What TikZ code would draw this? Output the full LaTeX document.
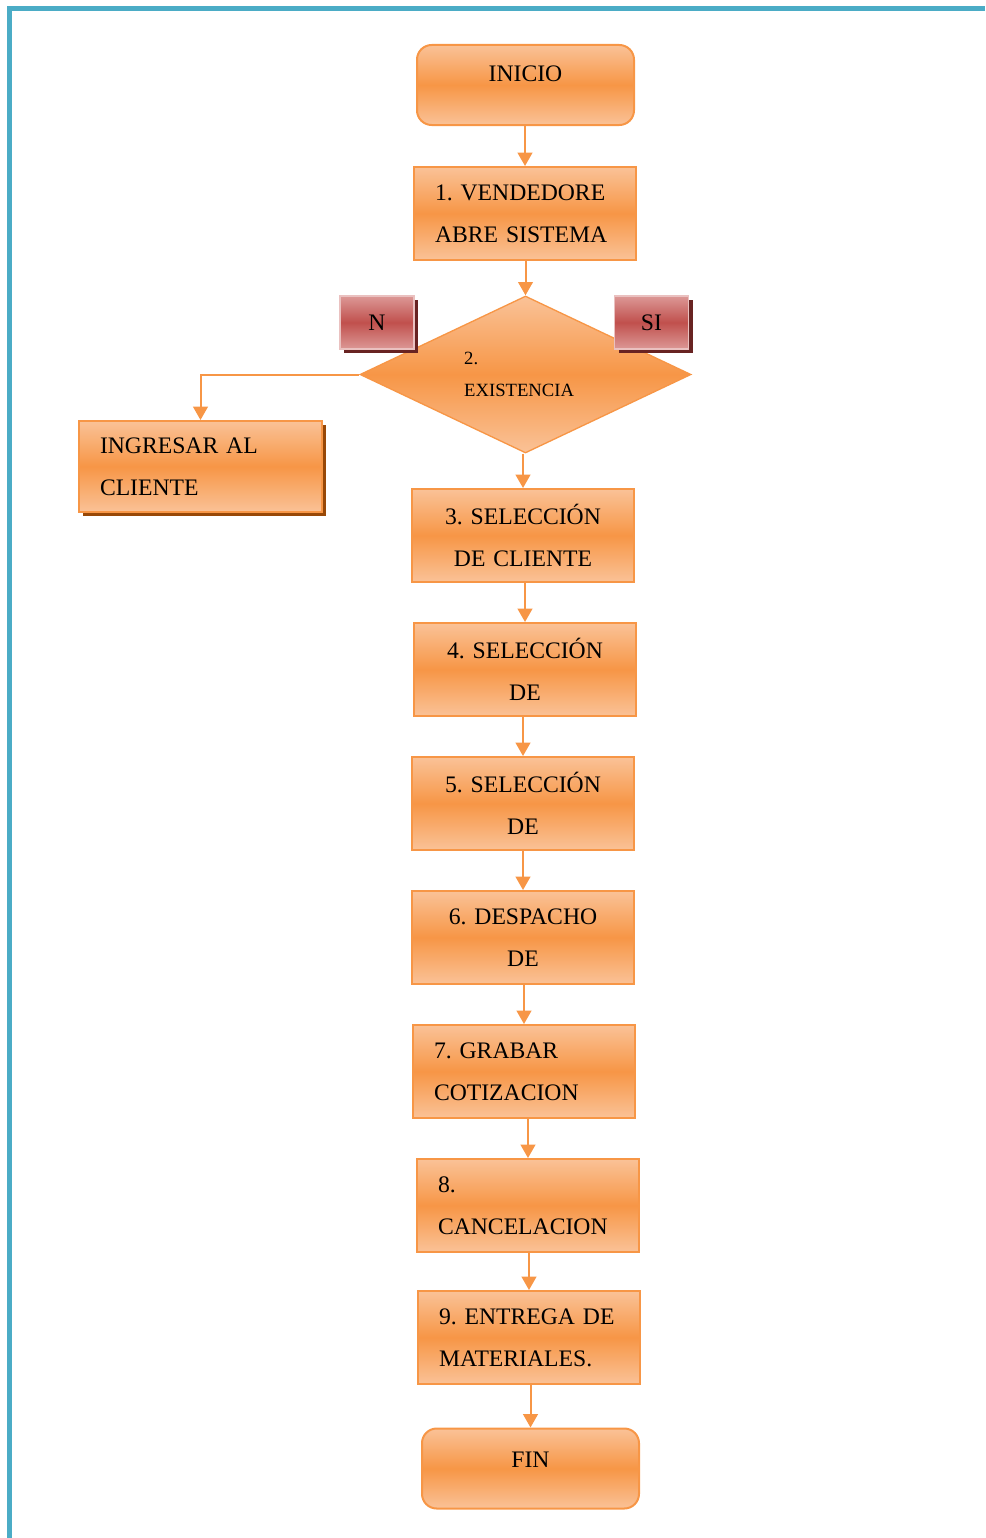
\documentclass[tikz,border=0pt]{standalone}
\usepackage{fontspec}
\setmainfont{Liberation Serif}
\usetikzlibrary{shapes.geometric,shadows,arrows.meta}
\definecolor{naranja}{HTML}{F79646}
\definecolor{naranjaclaro}{HTML}{FAC297}
\definecolor{rojo}{HTML}{C0504D}
\definecolor{rojoclaro}{HTML}{DC9896}
\definecolor{rojooscuro}{HTML}{682322}
\definecolor{cafe}{HTML}{984807}
\definecolor{marco}{HTML}{4BACC6}
\frenchspacing
\begin{document}
\begin{tikzpicture}[x=0.75pt,y=-0.75pt,
naranjo/.style={draw=naranja,line width=1.5pt,top color=naranjaclaro,bottom color=naranjaclaro,middle color=naranja},
caja/.style={naranjo,minimum width=166.5pt,minimum height=69.75pt,inner xsep=15.75pt,inner ysep=0pt,text width=135pt,font=\fontsize{17.75}{31.5}\selectfont},
inicio/.style={naranjo,rounded corners=11pt,minimum width=162.75pt,minimum height=60pt,inner sep=0pt,font=\fontsize{17.75}{20}\selectfont},
decision/.style={naranjo,line width=1pt,diamond,aspect=2.1,minimum width=248.25pt,minimum height=117.75pt,inner sep=0pt,text width=92pt,align=left,font=\fontsize{14}{24}\selectfont},
etiq/.style={draw=rojoclaro!60!white,line width=1pt,top color=rojoclaro,bottom color=rojoclaro,middle color=rojo,minimum width=55.5pt,minimum height=39.75pt,inner sep=0pt,drop shadow={shadow xshift=3pt,shadow yshift=-3pt,fill=rojooscuro,opacity=1},font=\fontsize{17.75}{20}\selectfont},
flecha/.style={draw=naranja,line width=1.5pt,-{Triangle[width=11pt,length=10pt]}}]
\useasboundingbox (0,0) rectangle (985,1538);
\draw[marco,line width=3.75pt] (9.8,1538) -- (9.8,8.2) -- (985,8.2);
\node[inicio,text height=12pt,text depth=16.5pt] (ini) at (525.5,85) {INICIO};
\node[caja,align=left] (b1) at (525,213.5) {1. VENDEDORE\\ABRE SISTEMA};
\node[decision] (dia) at (525.5,374.5) {2.\\EXISTENCIA};
\node[etiq] (no) at (377,322.5) {N};
\node[etiq] (si) at (651.5,322.5) {SI};
\node[caja,align=left,minimum width=182.25pt,minimum height=68.25pt,text width=150.75pt,drop shadow={shadow xshift=3pt,shadow yshift=-3pt,fill=cafe,opacity=1}] (ingr) at (200.5,466.5) {INGRESAR AL\\CLIENTE};
\node[caja,align=center] (b3) at (523,535.5) {3. SELECCIÓN\\DE CLIENTE};
\node[caja,align=center] (b4) at (525,669.5) {4. SELECCIÓN\\DE};
\node[caja,align=center] (b5) at (523,803.5) {5. SELECCIÓN\\DE};
\node[caja,align=center] (b6) at (523,937.5) {6. DESPACHO\\DE};
\node[caja,align=left] (b7) at (524,1071.5) {7. GRABAR\\COTIZACION};
\node[caja,align=left] (b8) at (528,1205.5) {8.\\CANCELACION};
\node[caja,align=left] (b9) at (529,1337.5) {9. ENTREGA DE\\MATERIALES.};
\node[inicio,text height=12pt,text depth=14.25pt] (fin) at (530.5,1468.5) {FIN};
\foreach \a/\b in {ini/b1,b1/dia,dia/b3,b3/b4,b4/b5,b5/b6,b6/b7,b7/b8,b8/b9,b9/fin}
\draw[flecha] (\b.north |- \a.south) -- (\b.north);
\draw[flecha] (dia.west) -| (ingr.north);
\end{tikzpicture}
\end{document}
